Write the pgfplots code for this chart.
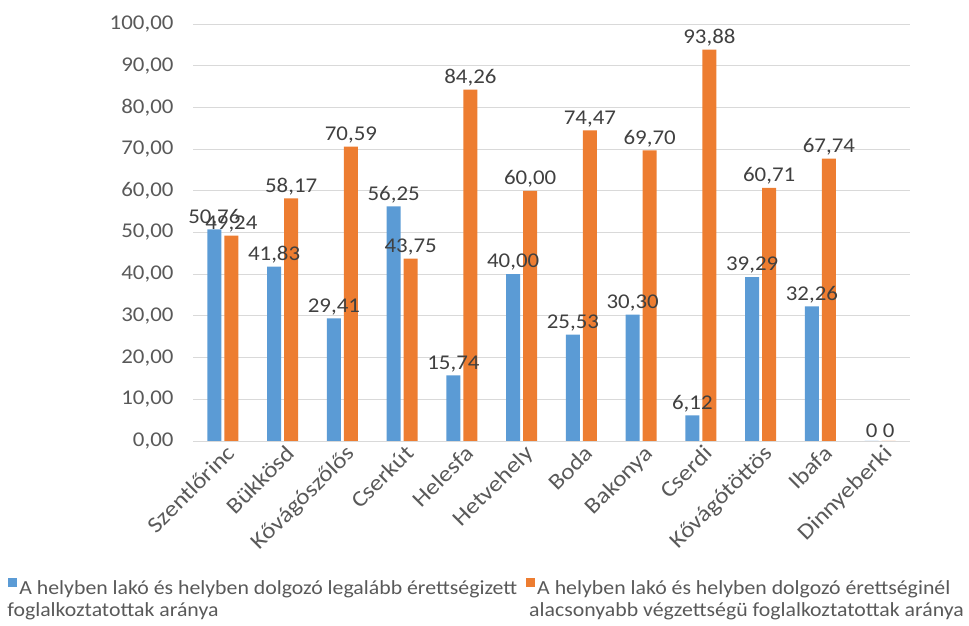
\documentclass[border=0pt]{standalone}
\usepackage{fontspec}
\setmainfont[FakeStretch=1.09]{Carlito}
\newfontfamily\catfont[FakeStretch=1.12]{Carlito}
\usepackage{pgfplots}
\usepackage{pgfplotstable}
\pgfplotsset{compat=1.18}
\definecolor{cblue}{HTML}{5B9BD5}
\definecolor{corange}{HTML}{ED7D31}
\definecolor{tgray}{HTML}{595959}
\definecolor{lgray}{HTML}{404040}
\definecolor{ggray}{HTML}{D9D9D9}

\pgfplotstableread{
x val lab
0  50.76 50,76
1  41.83 41,83
2  29.41 29,41
3  56.25 56,25
4  15.74 15,74
5  40.00 40,00
6  25.53 25,53
7  30.30 30,30
8  6.12  6,12
9  39.29 39,29
10 32.26 32,26
11 0     0
}\blueseries

\pgfplotstableread{
x val lab
0  49.24 49,24
1  58.17 58,17
2  70.59 70,59
3  43.75 43,75
4  84.26 84,26
5  60.00 60,00
6  74.47 74,47
7  69.70 69,70
8  93.88 93,88
9  60.71 60,71
10 67.74 67,74
11 0     0
}\orangeseries

\begin{document}
\begin{tikzpicture}
\begin{axis}[
  at={(193pt,185pt)}, anchor=south west,
  scale only axis,
  width=717pt, height=417pt,
  ybar=3pt, bar width=14pt,
  xmin=-0.5, xmax=11.5,
  ymin=0, ymax=100,
  ytick={0,10,...,100},
  xtick=data,
  xticklabels={Szentlőrinc,Bükkösd,Kővágószőlős,Cserkút,Helesfa,Hetvehely,Boda,Bakonya,Cserdi,Kővágótöttös,Ibafa,Dinnyeberki},
  major tick length=0pt,
  axis lines*=left,
  y axis line style={draw=none},
  x axis line style={ggray, line width=0.8pt},
  ymajorgrids, grid style={ggray, line width=0.8pt},
  /pgf/number format/.cd, fixed, fixed zerofill, precision=2, use comma, assume math mode=true,
  /pgfplots/.cd,
  yticklabel style={font=\fontsize{21}{25}\selectfont, text=tgray, xshift=-16pt},
  xticklabel style={font=\catfont\fontsize{22.5}{26}\selectfont, text=tgray, rotate=45, anchor=north east, xshift=3pt},
  point meta=explicit symbolic,
  nodes near coords,
  nodes near coords style={font=\fontsize{21}{25}\selectfont, text=lgray},
  legend columns=2,
  legend style={at={(-0.262,-0.322)}, anchor=north west, draw=none, fill=none,
    font=\fontsize{20}{22}\selectfont, text=tgray,
    /tikz/every even column/.append style={column sep=7pt}},
  legend image code/.code={\fill[#1] (0pt,1pt) rectangle (9pt,10pt);},
]
\addplot[fill=cblue, draw=none] table[x=x, y=val, meta=lab] {\blueseries};
\addplot[fill=corange, draw=none] table[x=x, y=val, meta=lab] {\orangeseries};
\addlegendentry{\begin{tabular}[t]{@{}l@{}}A helyben lakó és helyben dolgozó legalább érettségizett\\\hspace*{-12pt}foglalkoztatottak aránya\end{tabular}}
\addlegendentry{\begin{tabular}[t]{@{}l@{}}A helyben lakó és helyben dolgozó érettséginél\\\hspace*{-8pt}alacsonyabb végzettségü foglalkoztatottak aránya\end{tabular}}
\end{axis}
\path[use as bounding box] (0,0) rectangle (969pt,626pt);
\end{tikzpicture}
\end{document}
